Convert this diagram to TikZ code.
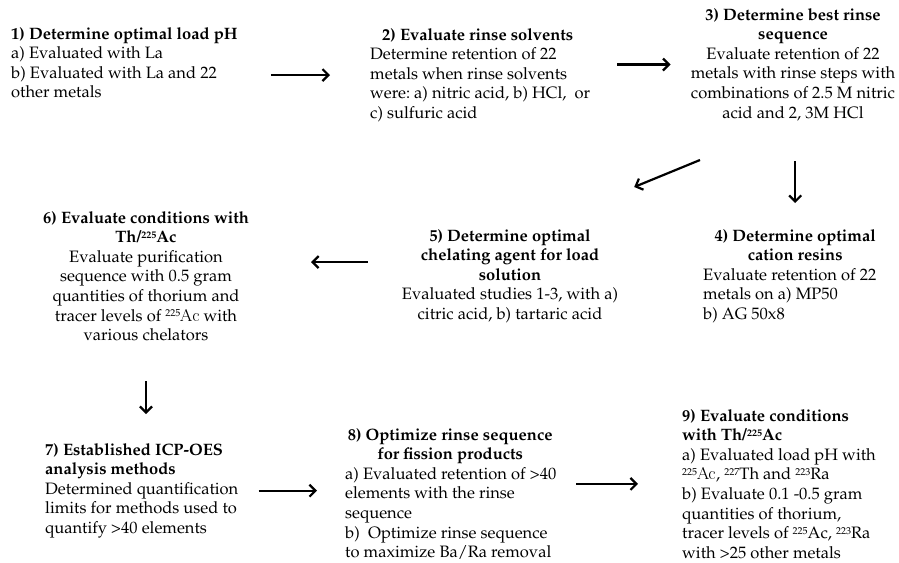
\documentclass[tikz,border=0pt]{standalone}
\usepackage[T1]{fontenc}
\usepackage{mathpazo}
\usetikzlibrary{arrows.meta}
\frenchspacing
\newcommand{\ttl}[2][200pt]{\makebox[#1]{\bfseries #2}}
\newcommand{\iso}[1]{\raisebox{0.28em}{\fontsize{10}{10}\selectfont #1}}
\begin{document}
\begin{tikzpicture}[x=1pt,y=-1pt]
%\draw[help lines] (0,0) grid (899,562);
\tikzstyle{box}=[inner sep=0pt,anchor=north west,align=left,font=\fontsize{16.5}{19.6}\selectfont]
\tikzstyle{cbox}=[box,anchor=north,align=center]
\tikzstyle{arr}=[line width=2.2pt,-{Straight Barb[length=6pt,width=12pt]}]
\useasboundingbox (0,0) rectangle (899,562);

\node[box] (n1) at (11,27) {\textbf{1) Determine optimal load pH}\\ a) Evaluated with La\\ b) Evaluated with La and 22\\ other metals};

\node[box] (n2) at (370,28) {\ttl[215pt]{2) Evaluate rinse solvents}\\ Determine retention of 22\\ metals when rinse solvents\\ were: a) nitric acid, b) HCl,~ or\\ c) sulfuric acid};

\node[cbox] (n3) at (793,8) {\textbf{3) Determine best rinse}\\ \textbf{sequence}\\ Evaluate retention of 22\\ metals with rinse steps with\\ combinations of 2.5 M nitric\\ acid and 2, 3M HCl};

\node[box] (n4) at (703,229) {\ttl[184pt]{4) Determine optimal}\\ \ttl[184pt]{cation resins}\\ Evaluate retention of 22\\ metals on a) MP50\\ b) AG 50x8};

\node[cbox] (n5) at (510,229) {\textbf{5) Determine optimal}\\ \textbf{chelating agent for load}\\ \textbf{solution}\\ Evaluated studies 1-3, with a)\\ citric acid, b) tartaric acid};

\node[cbox] (n6) at (146,211) {\textbf{6) Evaluate conditions with}\\ \textbf{Th/\iso{225}Ac}\\ Evaluate purification\\ sequence with 0.5 gram\\ quantities of thorium and\\ tracer levels of \iso{225}\textsf{Ac} with\\ various chelators};

\node[box] (n7) at (45,443) {\textbf{7) Established ICP-OES}\\ \textbf{analysis methods}\\ Determined quantification\\ limits for methods used to\\ quantify >40 elements};

\node[box] (n8) at (345,428) {\ttl[210pt]{8) Optimize rinse sequence}\\ \ttl[210pt]{for fission products}\\ a) Evaluated retention of >40\\ elements with the rinse\\ sequence\\ b)~ Optimize rinse sequence\\ to maximize Ba/Ra removal};

\node[box] (n9) at (682,409) {\textbf{9) Evaluate conditions}\\ \textbf{with Th/\iso{225}Ac}\\ a) Evaluated load pH with\\ \iso{225}\textsf{Ac}, \iso{227}Th and \iso{223}Ra\\ b) Evaluate 0.1 -0.5 gram\\ quantities of thorium,\\ tracer levels of \iso{225}Ac, \iso{223}Ra\\ with >25 other metals};

\draw[arr] ([xshift=33pt]n1.east |- n2.west) -- ([xshift=-40pt]n2.west);
\draw[arr] ([xshift=27pt]n2.east |- n3.west) -- ([xshift=-20pt]n3.west);
\draw[arr,shorten <=40pt,shorten >=26pt] (n3.south -| n4.north) -- (n4.north);
\draw[arr] ([xshift=-3pt,yshift=69pt]n4.north west) -- ([xshift=16pt,yshift=42pt]n5.north east);
\draw[arr] ([xshift=-34pt,yshift=14pt]n5.west) -- ([xshift=62pt,yshift=14pt]n5.west -| n6.east);
\draw[arr,shorten <=40pt,shorten >=29pt] (n6.south) -- (n6.south |- n7.north);
\draw[arr,shorten <=20pt,shorten >=28pt] (n7.east) -- (n7.east -| n8.west);
\draw[arr,shorten <=20pt,shorten >=44pt] (n9.west -| n8.east) -- (n9.west);
\end{tikzpicture}
\end{document}
